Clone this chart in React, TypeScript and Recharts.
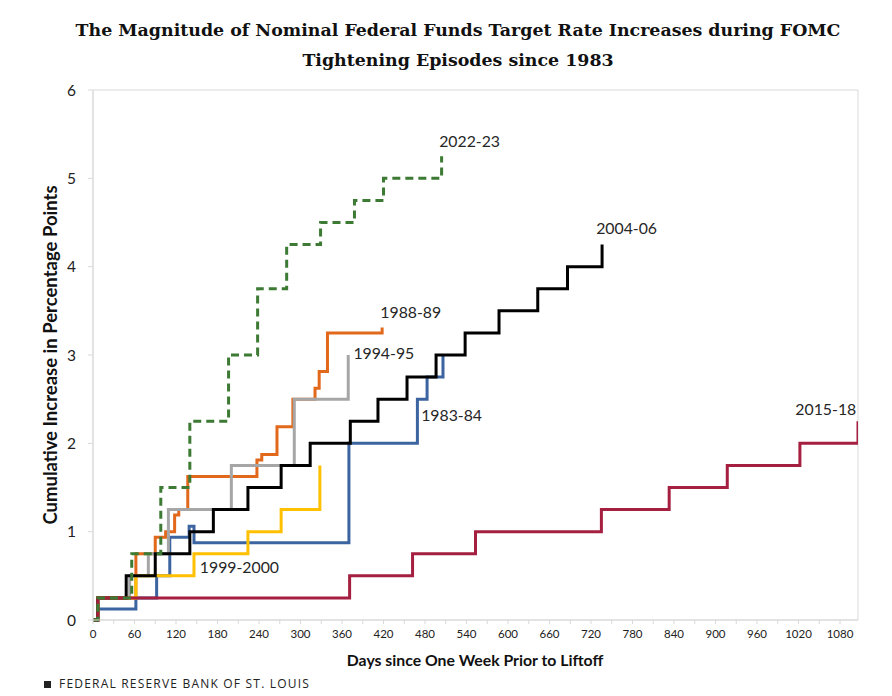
import { LineChart, Line, XAxis, YAxis, ReferenceArea, ReferenceDot } from 'recharts'

type Pt = { day: number; value: number }

// cumulative increase (pp) by days since one week prior to liftoff
const EP_1983_84: Pt[] = [
  { day: 0, value: 0 }, { day: 7, value: 0.125 }, { day: 62, value: 0.25 }, { day: 92, value: 0.5 },
  { day: 111, value: 0.9375 }, { day: 139, value: 1.0625 }, { day: 146, value: 0.875 },
  { day: 370, value: 2.0 }, { day: 469, value: 2.5 }, { day: 483, value: 2.75 }, { day: 506, value: 3.0 },
]
const EP_1988_89: Pt[] = [
  { day: 0, value: 0 }, { day: 7, value: 0.25 }, { day: 62, value: 0.75 }, { day: 90, value: 0.9375 },
  { day: 105, value: 1.0 }, { day: 118, value: 1.1875 }, { day: 124, value: 1.25 }, { day: 137, value: 1.625 },
  { day: 237, value: 1.8125 }, { day: 244, value: 1.875 }, { day: 266, value: 2.1875 }, { day: 289, value: 2.5 },
  { day: 321, value: 2.625 }, { day: 327, value: 2.8125 }, { day: 339, value: 3.25 }, { day: 418, value: 3.3125 },
]
const EP_1994_95: Pt[] = [
  { day: 0, value: 0 }, { day: 7, value: 0.25 }, { day: 53, value: 0.5 }, { day: 80, value: 0.75 },
  { day: 109, value: 1.25 }, { day: 200, value: 1.75 }, { day: 291, value: 2.5 }, { day: 369, value: 3.0 },
]
const EP_1999_00: Pt[] = [
  { day: 0, value: 0 }, { day: 7, value: 0.25 }, { day: 62, value: 0.5 }, { day: 146, value: 0.75 },
  { day: 224, value: 1.0 }, { day: 272, value: 1.25 }, { day: 328, value: 1.75 },
]
const EP_2004_06: Pt[] = [
  { day: 0, value: 0 }, { day: 7, value: 0.25 }, { day: 48, value: 0.5 }, { day: 90, value: 0.75 },
  { day: 140, value: 1.0 }, { day: 174, value: 1.25 }, { day: 224, value: 1.5 }, { day: 272, value: 1.75 },
  { day: 314, value: 2.0 }, { day: 372, value: 2.25 }, { day: 412, value: 2.5 }, { day: 454, value: 2.75 },
  { day: 496, value: 3.0 }, { day: 538, value: 3.25 }, { day: 587, value: 3.5 }, { day: 643, value: 3.75 },
  { day: 686, value: 4.0 }, { day: 736, value: 4.25 },
]
const EP_2015_18: Pt[] = [
  { day: 0, value: 0 }, { day: 7, value: 0.25 }, { day: 371, value: 0.5 }, { day: 462, value: 0.75 },
  { day: 553, value: 1.0 }, { day: 735, value: 1.25 }, { day: 833, value: 1.5 }, { day: 917, value: 1.75 },
  { day: 1022, value: 2.0 }, { day: 1106, value: 2.25 },
]
const EP_2022_23: Pt[] = [
  { day: 0, value: 0 }, { day: 7, value: 0.25 }, { day: 56, value: 0.75 }, { day: 98, value: 1.5 },
  { day: 140, value: 2.25 }, { day: 196, value: 3.0 }, { day: 238, value: 3.75 }, { day: 280, value: 4.25 },
  { day: 329, value: 4.5 }, { day: 378, value: 4.75 }, { day: 420, value: 5.0 }, { day: 504, value: 5.25 },
]

const X_TICKS = [0, 30, 60, 90, 120, 150, 180, 210, 240, 270, 300, 330, 360, 390, 420, 450, 480, 510, 540, 570,
  600, 630, 660, 690, 720, 750, 780, 810, 840, 870, 900, 930, 960, 990, 1020, 1050, 1080]
const Y_TICKS = [0, 1, 2, 3, 4, 5, 6]
const X_MAX = 1106

const SERIES = [
  { name: '1983-84', data: EP_1983_84, color: '#3b64a0', dash: undefined },
  { name: '1988-89', data: EP_1988_89, color: '#e2691b', dash: undefined },
  { name: '1994-95', data: EP_1994_95, color: '#a6a6a6', dash: undefined },
  { name: '1999-2000', data: EP_1999_00, color: '#ffc000', dash: undefined },
  { name: '2004-06', data: EP_2004_06, color: '#000000', dash: undefined },
  { name: '2015-18', data: EP_2015_18, color: '#a51f40', dash: undefined },
  { name: '2022-23', data: EP_2022_23, color: '#3d7a34', dash: '8 5' },
]

// where each episode name sits (data units, left edge of text)
const LABELS = [
  { name: '2022-23', day: 499, value: 5.42 },
  { name: '2004-06', day: 726, value: 4.43 },
  { name: '1988-89', day: 414, value: 3.48 },
  { name: '1994-95', day: 375, value: 3.02 },
  { name: '1983-84', day: 473, value: 2.32 },
  { name: '2015-18', day: 1014, value: 2.38 },
  { name: '1999-2000', day: 153, value: 0.6 },
]

const SANS = 'Lato, "Open Sans", sans-serif'

export default function App() {
  return (
    <div style={{ position: 'absolute', left: 0, top: 0, width: 892, height: 696, background: '#fff', overflow: 'hidden' }}>
      <div style={{
        position: 'absolute', left: 12, top: 15, width: 892, textAlign: 'center',
        fontFamily: '"DejaVu Serif", serif', fontWeight: 700, fontSize: 17.4, lineHeight: '30px', color: '#111',
      }}>
        The Magnitude of Nominal Federal Funds Target Rate Increases during FOMC<br />
        Tightening Episodes since 1983
      </div>

      <div style={{ position: 'absolute', left: 0, top: 0 }}>
        <LineChart width={892} height={696} margin={{ top: 90, right: 34, bottom: 46, left: 53 }}>
          <XAxis
            type="number"
            dataKey="day"
            domain={[0, X_MAX]}
            ticks={X_TICKS}
            interval={0}
            tickFormatter={(v: number) => (v % 60 === 0 ? String(v) : '')}
            height={30}
            tickSize={4}
            tickMargin={6}
            axisLine={{ stroke: '#d9d9d9' }}
            tickLine={{ stroke: '#d9d9d9' }}
            tick={{ fill: '#222', fontSize: 11.5, fontFamily: SANS }}
            allowDataOverflow
          />
          <YAxis
            type="number"
            domain={[0, 6]}
            ticks={Y_TICKS}
            interval={0}
            width={40}
            tickSize={5}
            tickMargin={12}
            axisLine={{ stroke: '#d9d9d9' }}
            tickLine={{ stroke: '#d9d9d9' }}
            tick={{ fill: '#222', fontSize: 15.5, fontFamily: SANS }}
          />
          <ReferenceArea x1={0} x2={X_MAX} y1={0} y2={6} fill="none" stroke="#d9d9d9" strokeWidth={1} />
          {SERIES.map((s) => (
            <Line
              key={s.name}
              data={s.data}
              dataKey="value"
              name={s.name}
              type="stepAfter"
              stroke={s.color}
              strokeWidth={3}
              strokeDasharray={s.dash}
              dot={false}
              activeDot={false}
              isAnimationActive={false}
            />
          ))}
          {LABELS.map((l) => (
            <ReferenceDot
              key={l.name}
              x={l.day}
              y={l.value}
              r={1}
              fill="none"
              stroke="none"
              ifOverflow="visible"
              label={{ value: l.name, position: 'right', offset: 0, fill: '#262626', fontSize: 15.8, fontFamily: SANS }}
            />
          ))}
        </LineChart>
      </div>

      <div style={{
        position: 'absolute', left: -150, top: 345, width: 400, height: 20, lineHeight: '20px',
        transform: 'rotate(-90deg)', textAlign: 'center',
        fontFamily: SANS, fontWeight: 700, fontSize: 18.5, color: '#111',
      }}>
        Cumulative Increase in Percentage Points
      </div>

      <div style={{
        position: 'absolute', left: 275, top: 650, width: 400, height: 20, lineHeight: '20px', textAlign: 'center',
        fontFamily: SANS, fontWeight: 700, fontSize: 15.8, color: '#111',
      }}>
        Days since One Week Prior to Liftoff
      </div>

      <div style={{
        position: 'absolute', left: 44, top: 676, height: 16, lineHeight: '16px', display: 'flex', alignItems: 'center',
        fontFamily: '"Open Sans", sans-serif', fontSize: 12, letterSpacing: 1.2, color: '#222',
      }}>
        <span style={{ display: 'inline-block', width: 7, height: 7, background: '#222', marginRight: 8 }} />
        FEDERAL RESERVE BANK OF ST. LOUIS
      </div>
    </div>
  )
}
